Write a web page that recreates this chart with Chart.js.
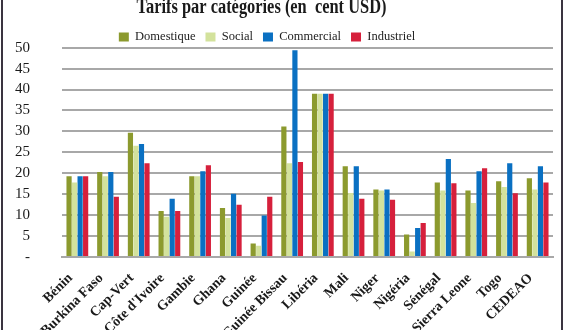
<!DOCTYPE html>
<html>
<head>
<meta charset="utf-8">
<script src="https://cdn.jsdelivr.net/npm/chart.js@4"></script>
<style>
  html, body { margin: 0; padding: 0; background: #fff; }
  .frame { position: relative; width: 567px; height: 330px; overflow: hidden; }
  .frame::before, .frame::after {
    content: ''; position: absolute; top: 0; bottom: 0; width: 2px; background: #3a3440;
  }
  .frame::before { left: 1px; }
  .frame::after { left: 561px; }
  #chart { display: block; }
</style>
</head>
<body>
<div class="frame">
  <canvas id="chart" width="567" height="330"></canvas>
</div>
<script>
// ===== Data =====
const countries = ['Bénin', 'Burkina Faso', 'Cap-Vert', "Côte d'Ivoire", 'Gambie', 'Ghana', 'Guinée',
  'Guinée Bissau', 'Libéria', 'Mali', 'Niger', 'Nigéria', 'Sénégal', 'Sierra Leone', 'Togo', 'CEDEAO'];
const domestique = [19.3, 20.3, 29.7, 11.0, 19.3, 11.7, 3.2, 31.2, 39.0, 21.7, 16.1, 5.4, 17.8, 15.9, 18.1, 18.8];
const social     = [17.8, 19.3, 26.6, 9.6, 19.3, 9.3, 2.7, 22.4, 39.0, 15.3, 15.9, 1.3, 15.9, 12.9, 16.7, 16.1];
const commercial = [19.3, 20.3, 27.0, 13.9, 20.5, 15.1, 9.9, 49.4, 39.0, 21.7, 16.1, 6.9, 23.4, 20.5, 22.4, 21.7];
const industriel = [19.3, 14.4, 22.4, 11.0, 21.9, 12.5, 14.4, 22.7, 39.0, 13.9, 13.7, 8.1, 17.6, 21.2, 15.2, 17.8];
const yTicks = [0, 5, 10, 15, 20, 25, 30, 35, 40, 45, 50];
const chartTitle = 'Tarifs par catégories (en  cent USD)';

const serif = "'Liberation Serif', 'Times New Roman', serif";

const mk = (label, data, color) => ({
  label, data, backgroundColor: color, borderWidth: 0,
  categoryPercentage: 0.72, barPercentage: 0.94
});

// the original title is a tall, narrow bold serif, half cut off by the top edge
const squeezedTitle = {
  id: 'squeezedTitle',
  afterDraw(chart) {
    const ctx = chart.ctx;
    ctx.save();
    ctx.translate(261.5, 13);
    ctx.scale(0.82, 1);
    ctx.font = `bold 20px ${serif}`;
    ctx.fillStyle = '#1a1a1a';
    ctx.textAlign = 'center';
    ctx.textBaseline = 'alphabetic';
    ctx.fillText(chartTitle, 0, 0);
    ctx.restore();
  }
};

// legend sits a bit left of centre and close to the plot
const placeLegend = {
  id: 'placeLegend',
  afterLayout(chart) {
    const l = chart.legend;
    if (!l) return;
    const h = l.height;
    l.top = 20.75; l.bottom = l.top + h;
    l.left -= 9.5; l.right -= 9.5;
  }
};

new Chart(document.getElementById('chart'), {
  type: 'bar',
  data: {
    labels: countries,
    datasets: [
      mk('Domestique', domestique, '#8c9a2e'),
      mk('Social', social, '#d3e29c'),
      mk('Commercial', commercial, '#0a70c2'),
      mk('Industriel', industriel, '#d6203c')
    ]
  },
  plugins: [squeezedTitle, placeLegend],
  options: {
    responsive: false, animation: false,
    layout: { padding: { top: 15.2, right: 14, left: 0, bottom: 0 } },
    plugins: {
      title: { display: false },
      legend: {
        labels: {
          boxWidth: 10, boxHeight: 9, padding: 10, color: '#222',
          font: { family: serif, size: 12.5 }
        }
      },
      tooltip: { enabled: false }
    },
    scales: {
      x: {
        grid: { display: false },
        border: { color: '#a8a8a8', width: 2 },
        ticks: {
          maxRotation: 45, minRotation: 45, color: '#1a1a1a', padding: 5, labelOffset: -7,
          autoSkip: false,
          font: { family: serif, size: 14, weight: 'bold' }
        },
        afterFit: s => { s.height = 73; }
      },
      y: {
        min: 0, max: 50,
        afterBuildTicks: s => { s.ticks = yTicks.map(v => ({ value: v })); },
        grid: { color: '#a8a8a8', lineWidth: 2, drawTicks: false },
        border: { display: false },
        ticks: {
          padding: 32, color: '#1a1a1a', autoSkip: false,
          font: { family: serif, size: 15 },
          callback: v => v === 0 ? '-' : v
        },
        afterFit: s => { s.width = 62; }
      }
    }
  }
});
</script>
</body>
</html>
